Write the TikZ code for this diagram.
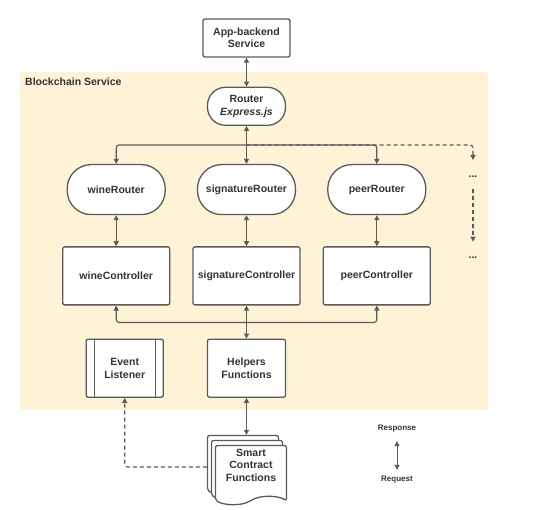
\documentclass[tikz,border=0pt]{standalone}
\usepackage{fontspec}
\setmainfont{Liberation Sans}
\usepackage{xcolor}
\usetikzlibrary{shapes.symbols, shadows, arrows.meta, positioning}
\definecolor{panelbg}{HTML}{FEF3D6}
\definecolor{linegray}{HTML}{5A5A5A}
\definecolor{txtgray}{HTML}{333333}
\tikzset{
    box/.style={rectangle, rounded corners=2pt, draw=linegray, line width=1.3pt, fill=white, align=center, text=txtgray, font=\fontsize{10.5}{12.5}\selectfont\bfseries},
    pill/.style={box, rounded corners=18pt, minimum width=78pt, minimum height=38pt},
    route/.style={box, rounded corners=24pt, minimum width=98pt, minimum height=50pt},
    ctrl/.style={box, minimum width=107pt, minimum height=58pt},
    listener/.style={box, minimum width=77pt, minimum height=58pt, path picture={
        \draw[linegray, line width=1pt] ([xshift=8pt]path picture bounding box.north west) -- ([xshift=8pt]path picture bounding box.south west);
        \draw[linegray, line width=1pt] ([xshift=-8pt]path picture bounding box.north east) -- ([xshift=-8pt]path picture bounding box.south east);}},
    doc/.style={box, tape, tape bend top=none, tape bend bottom=in and out, tape bend height=8pt, minimum width=71pt, minimum height=53pt, text depth=12pt,
        copy shadow={shadow xshift=-8pt, shadow yshift=10pt, draw=linegray, fill=white, line width=1.3pt},
        copy shadow={shadow xshift=-4pt, shadow yshift=5pt, draw=linegray, fill=white, line width=1.3pt}},
    dots/.style={text=txtgray, font=\fontsize{10.5}{12.5}\selectfont\bfseries},
    legend/.style={text=txtgray, font=\fontsize{8}{10}\selectfont\bfseries},
    arrow/.style={-{Triangle[length=5pt, width=5pt]}, draw=linegray, line width=1.2pt},
    biarrow/.style={{Triangle[length=5pt, width=5pt]}-{Triangle[length=5pt, width=5pt]}, draw=linegray, line width=1.2pt},
    dashline/.style={dash pattern=on 4pt off 3pt}
}

\begin{document}
\begin{tikzpicture}[x=1pt, y=1pt, node distance=30pt]
    \useasboundingbox (0,0) rectangle (541,-510);
    % Blockchain service area
    \fill[panelbg, rounded corners=3pt] (20,-72) rectangle (488,-410);
    \node (title) [anchor=west, inner sep=0pt, text=txtgray, font=\fontsize{10.5}{12.5}\selectfont\bfseries] at (25,-82) {Blockchain Service};

    \node (app) [box, minimum width=87pt, minimum height=38pt] at (246.5,-38) {App-backend\\Service};
    \node (router) [pill, below=29pt of app] {Router\\\textit{Express.js}};

    \node (sigR) [route, below=38pt of router] {signatureRouter};
    \node (wineR) [route, left=31pt of sigR] {wineRouter};
    \node (peerR) [route, right=31pt of sigR] {peerRouter};

    \node (sigC) [ctrl, below=31pt of sigR] {signatureController};
    \node (wineC) [ctrl, below=31pt of wineR] {wineController};
    \node (peerC) [ctrl, below=31pt of peerR] {peerController};

    \node (helpers) [box, minimum width=78pt, minimum height=58pt, below=33pt of sigC] {Helpers\\Functions};
    \node (event) [listener, left=43pt of helpers] {Event\\Listener};
    \node (smart) [doc, below=47pt of helpers, xshift=4.5pt] {Smart\\Contract\\Functions};

    \node (dots1) [dots] at (473,-177) {...};
    \node (dots2) [dots] at (473,-258) {...};

    % legend
    \node (resp) [legend] at (397,-429) {Response};
    \node (req) [legend] at (397,-480) {Request};

    % connectors
    \coordinate (split) at ([yshift=-19pt]router.south);
    \coordinate (more) at (473,-160);
    \coordinate (bus) at ([yshift=-17pt]sigC.south);
    \path (smart.north) ++(-4.5pt,10pt) coordinate (smarttop);
    \path (smart.west) ++(-8pt,4pt) coordinate (smartleft);

    \draw[biarrow] (app) -- (router);
    \draw[biarrow] (router) -- (sigR);
    \draw[arrow, rounded corners=3pt] (split) -| (wineR);
    \draw[arrow, rounded corners=3pt] (split) -| (peerR);
    \draw[arrow, dashline, rounded corners=3pt] (split) -| (more);
    \draw[arrow, dashline, shorten <=8pt, shorten >=12pt] (dots1) -- (dots2);

    \foreach \r/\c in {wineR/wineC, sigR/sigC, peerR/peerC}
        \draw[biarrow] (\r) -- (\c);

    \draw[arrow, rounded corners=3pt] (bus) -| (wineC);
    \draw[arrow, rounded corners=3pt] (bus) -| (peerC);
    \draw[biarrow] (sigC) -- (helpers);
    \draw[biarrow] (helpers) -- (smarttop);
    \draw[arrow, dashline, rounded corners=3pt] (smartleft) -| (event);

    \draw[biarrow, line width=0.7pt, shorten <=5pt, shorten >=3pt] (resp) -- (req);
\end{tikzpicture}
\end{document}
